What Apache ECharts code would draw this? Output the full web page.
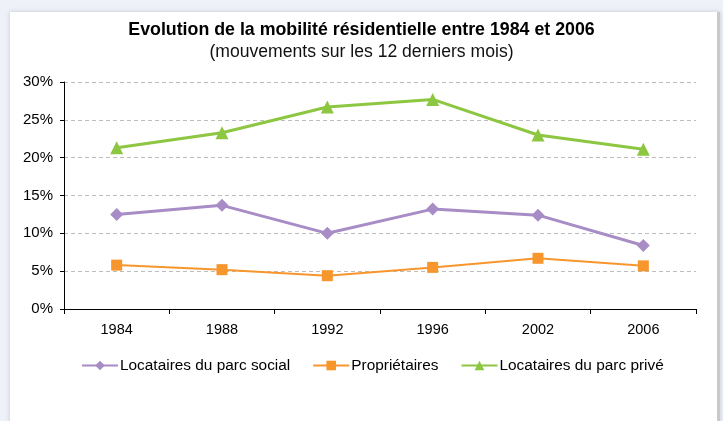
<!DOCTYPE html>
<html><head><meta charset="utf-8">
<script src="https://cdn.jsdelivr.net/npm/echarts@6/dist/echarts.min.js"></script>
<style>
html,body{margin:0;padding:0;background:#eef1f7;width:723px;height:421px;overflow:hidden;}
#card{position:absolute;left:10px;top:12px;width:707px;height:420px;background:#fff;box-shadow:0 0 4px rgba(150,160,180,0.5);border-right:3px solid #c9c9c9;}
#c{position:absolute;left:0;top:0;width:723px;height:421px;}
</style></head>
<body><div id="card"></div><div id="c"></div>
<script>
const categories = ['1984','1988','1992','1996','2002','2006'];
const socialValues = [12.5, 13.7, 10.0, 13.2, 12.4, 8.4];
const ownerValues = [5.8, 5.2, 4.4, 5.5, 6.7, 5.7];
const privateValues = [21.3, 23.3, 26.7, 27.7, 23.0, 21.1];
const seriesNames = ['Locataires du parc social', 'Propriétaires', 'Locataires du parc privé'];
const titleText = 'Evolution de la mobilité résidentielle entre 1984 et 2006';
const subtitleText = '(mouvements sur les 12 derniers mois)';

const chart = echarts.init(document.getElementById('c'));
const font = 'Liberation Sans, Arial, sans-serif';
chart.setOption({
  backgroundColor: 'transparent',
  animation: false,
  title: {
    text: titleText, subtext: subtitleText, left: 'center', top: 16, itemGap: 4,
    textStyle: {fontFamily: font, fontSize: 17.8, fontWeight: 'bold', color: '#000'},
    subtextStyle: {fontFamily: font, fontSize: 17.6, color: '#111'}
  },
  grid: {left: 64, right: 27, top: 82, bottom: 112, containLabel: false},
  legend: {
    top: 353, left: 76, itemWidth: 36, itemHeight: 12, itemGap: 22,
    textStyle: {fontFamily: font, fontSize: 15.4, color: '#000', padding: [0,0,0,-3]},
    data: seriesNames
  },
  xAxis: {
    type: 'category', data: categories, boundaryGap: true,
    axisLine: {lineStyle: {color: '#000', width: 1}},
    axisTick: {show: true, length: 5, lineStyle: {color: '#000'}},
    axisLabel: {fontFamily: font, fontSize: 14.5, color: '#000', margin: 13}
  },
  yAxis: {
    type: 'value', min: 0, max: 30, interval: 5,
    axisLine: {show: true, lineStyle: {color: '#000', width: 1}},
    axisTick: {show: true, length: 4, lineStyle: {color: '#000'}},
    axisLabel: {fontFamily: font, fontSize: 15, color: '#000', margin: 11, formatter: '{value}%'},
    splitLine: {show: true, lineStyle: {color: '#bdbdbd', type: [4, 3], width: 1}}
  },
  series: [
    {name: seriesNames[0], type: 'line', data: socialValues, symbol: 'diamond', symbolSize: 13,
     itemStyle: {color: '#a88cc6'}, lineStyle: {width: 3, color: '#a88cc6'}},
    {name: seriesNames[1], type: 'line', data: ownerValues, symbol: 'rect', symbolSize: 11,
     itemStyle: {color: '#f7962c'}, lineStyle: {width: 2, color: '#f7962c'}},
    {name: seriesNames[2], type: 'line', data: privateValues, symbol: 'triangle', symbolSize: 13,
     itemStyle: {color: '#8dc641'}, lineStyle: {width: 3, color: '#8dc641'}}
  ]
});
</script></body></html>
